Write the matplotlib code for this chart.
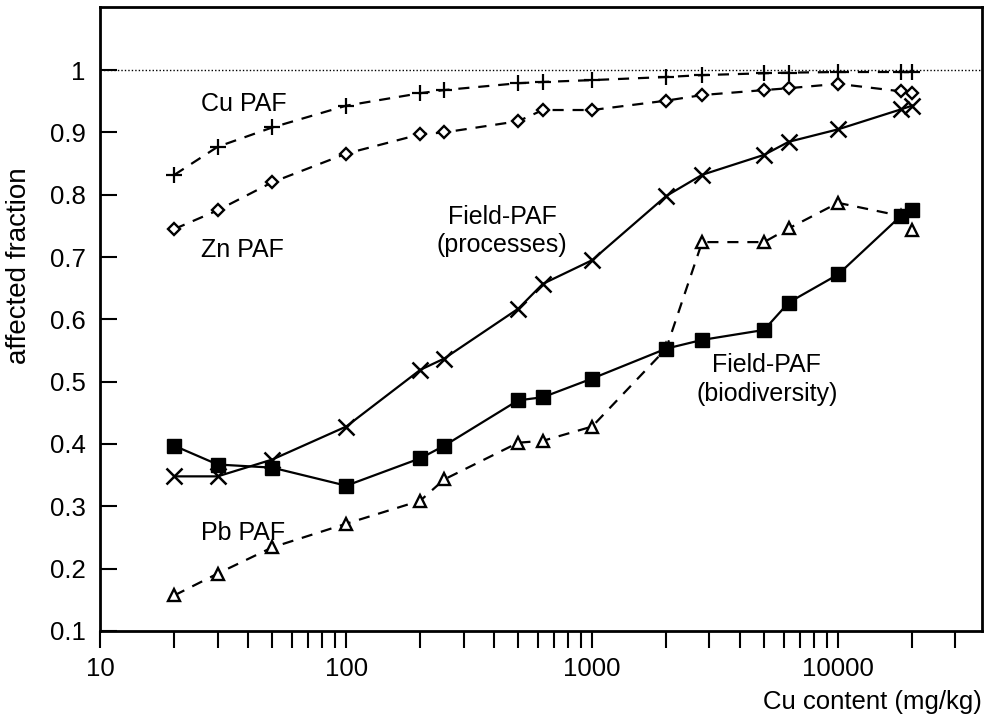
import numpy as np
import matplotlib
matplotlib.use("Agg")
import matplotlib.pyplot as plt
from matplotlib.ticker import FixedLocator, NullFormatter, LogLocator

plt.rcParams["font.family"] = ["Liberation Sans", "DejaVu Sans"]

# ── data ────────────────────────────────────────────────────────────────────
cu_x = [20, 30, 50, 100, 200, 250, 500, 630, 1000, 2000, 2800, 5000, 6300, 10000, 18000, 20000]
cu_y = [0.832, 0.877, 0.908, 0.943, 0.963, 0.968, 0.979, 0.981, 0.984, 0.989, 0.992,
        0.995, 0.996, 0.997, 0.997, 0.997]

zn_x = cu_x
zn_y = [0.745, 0.775, 0.820, 0.866, 0.897, 0.900, 0.918, 0.936, 0.936, 0.951, 0.960,
        0.968, 0.971, 0.978, 0.966, 0.963]

proc_x = cu_x
proc_y = [0.348, 0.348, 0.375, 0.428, 0.519, 0.537, 0.617, 0.657, 0.695, 0.798, 0.832,
          0.864, 0.885, 0.905, 0.937, 0.943]

bio_x = cu_x
bio_y = [0.397, 0.367, 0.362, 0.333, 0.377, 0.397, 0.470, 0.475, 0.505, 0.553, 0.567,
         0.583, 0.627, 0.672, 0.766, 0.776]

pb_x = cu_x
pb_y = [0.157, 0.192, 0.234, 0.272, 0.309, 0.343, 0.402, 0.405, 0.428, 0.553, 0.724,
        0.724, 0.746, 0.787, 0.766, 0.744]

y_ticks = [0.1, 0.2, 0.3, 0.4, 0.5, 0.6, 0.7, 0.8, 0.9, 1.0]
y_tick_labels = ["0.1", "0.2", "0.3", "0.4", "0.5", "0.6", "0.7", "0.8", "0.9", "1"]
x_ticks = [10, 100, 1000, 10000]
x_tick_labels = ["10", "100", "1000", "10000"]

# ── figure ──────────────────────────────────────────────────────────────────
fig = plt.figure(figsize=(9.84, 7.21), dpi=100)
ax = fig.add_axes([0.102, 0.125, 0.896, 0.865])

dash = (0, (5, 4))
lw = 1.6
ax.axhline(1.0, color="black", lw=1.0, ls=(0, (1, 1.5)), zorder=1)

ax.plot(cu_x, cu_y, ls=dash, color="black", lw=lw, marker="+", ms=12, mew=1.6)
ax.plot(zn_x, zn_y, ls=dash, color="black", lw=lw, marker="D", ms=6.5,
        mfc="white", mec="black", mew=1.7)
ax.plot(pb_x, pb_y, ls=dash, color="black", lw=lw, marker="^", ms=8.5,
        mfc="white", mec="black", mew=1.7)
ax.plot(proc_x, proc_y, ls="-", color="black", lw=lw, marker="x", ms=11, mew=1.8)
ax.plot(bio_x, bio_y, ls="-", color="black", lw=lw, marker="s", ms=10,
        mfc="black", mec="black")

ax.set_xscale("log")
ax.set_xlim(10, 38500)
ax.set_ylim(0.1, 1.101)

# ticks
ax.yaxis.set_major_locator(FixedLocator(y_ticks))
ax.set_yticklabels(y_tick_labels)
ax.xaxis.set_major_locator(FixedLocator(x_ticks))
ax.set_xticklabels(x_tick_labels)
ax.xaxis.set_minor_locator(LogLocator(base=10, subs=np.arange(2, 10)))
ax.xaxis.set_minor_formatter(NullFormatter())
ax.tick_params(axis="y", direction="in", length=12, width=1.5, labelsize=18.5, pad=10.5)
ax.tick_params(axis="x", which="both", direction="out", length=12, width=1.5,
               labelsize=18.5, pad=7)

for sp in ax.spines.values():
    sp.set_linewidth(2.0)

# labels
ax.set_ylabel("affected fraction", fontsize=20, va="center")
ax.yaxis.set_label_coords(-0.092, 0.585)
ax.set_xlabel("Cu content (mg/kg)", fontsize=18.5, loc="right", labelpad=6)

txt = dict(fontsize=18, color="black")
ax.text(25.6, 0.946, "Cu PAF", ha="left", va="center", **txt)
ax.text(25.6, 0.712, "Zn PAF", ha="left", va="center", **txt)
ax.text(25.6, 0.257, "Pb PAF", ha="left", va="center", **txt)
ax.text(430, 0.742, "Field-PAF\n(processes)", ha="center", va="center",
        linespacing=1.25, **txt)
ax.text(5130, 0.503, "Field-PAF\n(biodiversity)", ha="center", va="center",
        linespacing=1.25, **txt)

fig.savefig("out.png", dpi=100)
